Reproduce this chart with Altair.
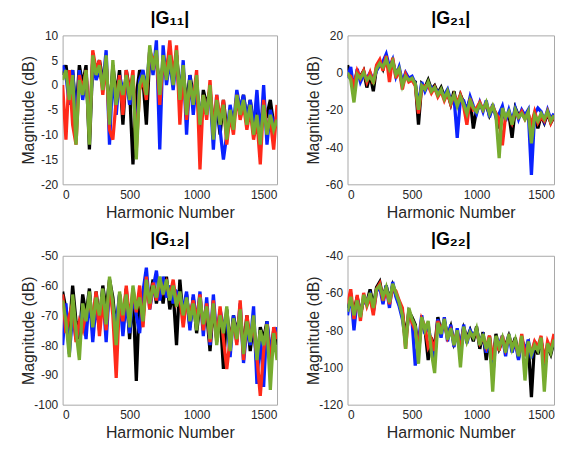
import altair as alt
import pandas as pd

# Harmonic numbers (x positions of samples)
H = list(range(0, 1601, 25))

# ---------- |G11| ----------
g11_k = [2, 4, -1, 3, -6,  4, 0, 4, -13, 5,  3, 5, 1, 4, -6,  4, -2, 3, -8, 3,
         -1, -16, -2, 3, 1,  -8, 6, 4, 5, 0,  4, 3, 7, 2, 6,  -1, 3, -4, 2, -2,
         0, -9, -1, -4, -1,  -8, -4, -10, -3, -9,  -6, -7, -4, -5, -2,  -7, -3, -8, -4, -10,
         -5, -6, -3, -8, -8]
g11_b = [4, 2, -4, 3, -8,  3, -3, 2, -9, 5,  1, 3, 0, 7, -12,  3, -6, 2, -1, 1,
         -4, 1, -11, 1, 3,  -1, 7, 2, 9, -13,  8, 0, 5, -1, 6,  -4, 5, -10, 2, -6,
         1, -7, -3, -5, -1,  -13, -2, -9, -15, -10,  -4, -8, -1, -5, -2,  -7, -3, -9, -1, -11,
         0, -12, -5, -8, -6]
g11_r = [0, -11, 3, -8, -12,  2, -1, 3, -10, 7,  3, 5, -2, 5, -9,  -11, -3, 2, -6, 3,
         -2, 3, -13, -1, 1,  -3, 7, 5, 6, -4,  5, 2, 9, 1, 8,  -8, 3, -7, 0, -3,
         3, -17, -2, -7, 1,  -10, -2, -7, -3, -12,  -6, -10, -2, -7, -4,  -9, -5, -11, -7, -16,
         -3, -9, -7, -13, -4]
g11_g = [1, 3, -3, 2, -12,  1, -2, 3, -12, 6,  2, 4, -1, 6, -8,  5, -4, 1, -2, 2,
         -3, 2, -15, 0, 2,  -2, 8, 3, 7, -2,  6, 1, 6, 0, 7,  -3, 4, -6, 1, -4,
         2, -8, -2, -6, 0,  -11, -3, -8, -4, -11,  -5, -9, -2, -6, -3,  -8, -4, -10, -6, -12,
         -4, -10, -6, -9, -7]

# ---------- |G21| ----------
g21_k = [4, -3, -6, 0, -2,  1, -8, -1, -10, 3,  6, 2, 8, 1, 5,  0, 1, -6, -1, -3,
         -4, -5, -28, -6, -8,  -4, -9, -7, -11, -8,  -13, -11, -17, -10, -19,  -12, -16, -20, -14, -30,
         -20, -18, -19, -17, -23,  -19, -22, -30, -20, -25,  -22, -35, -19, -23, -21,  -24, -22, -34, -22, -30,
         -23, -27, -22, -27, -24]
g21_b = [-3, 3, -10, 2, -5,  -1, -3, 0, -4, 1,  4, 6, 10, 3, 7,  -2, 3, -5, 0, -3,
         -2, -6, -18, -5, -10,  -6, -8, -9, -10, -11,  -12, -9, -15, -13, -35,  -14, -15, -21, -13, -18,
         -22, -16, -21, -15, -24,  -17, -24, -22, -18, -26,  -20, -26, -19, -25, -20,  -23, -20, -55, -22, -19,
         -21, -26, -20, -25, -22]
g21_r = [-1, -2, -7, 1, -3,  1, -5, 0, -6, 4,  7, 1, 9, -5, 8,  -3, 2, -9, -1, -5,
         -4, -7, -22, -8, -7,  -7, -11, -8, -13, -10,  -15, -11, -17, -12, -16,  -12, -18, -28, -14, -20,
         -19, -16, -20, -17, -21,  -18, -22, -25, -39, -23,  -22, -27, -21, -24, -21,  -25, -22, -28, -21, -27,
         -24, -26, -21, -27, -23]
g21_g = [0, -4, -16, -1, -3,  0, -4, -2, -5, 2,  5, 3, 7, 2, 6,  -1, 2, -7, -2, -4,
         -3, -6, -20, -7, -9,  -5, -10, -8, -12, -9,  -14, -10, -16, -12, -18,  -13, -17, -22, -15, -19,
         -21, -17, -20, -16, -22,  -18, -23, -46, -19, -24,  -21, -28, -20, -24, -22,  -25, -21, -38, -23, -26,
         -22, -25, -21, -26, -23]

# ---------- |G12| ----------
g12_k = [-62, -68, -76, -60, -72,  -78, -63, -70, -61, -76,  -62, -72, -60, -68, -58,  -64, -76, -63, -73, -61,
         -78, -62, -92, -62, -70,  -60, -65, -58, -66, -59,  -66, -57, -68, -62, -80,  -58, -72, -63, -74, -64,
         -76, -66, -72, -69, -82,  -67, -78, -69, -88, -68,  -80, -70, -76, -69, -81,  -70, -82, -72, -87, -74,
         -78, -72, -84, -75, -80]
g12_b = [-80, -66, -83, -70, -78,  -74, -68, -78, -63, -79,  -66, -75, -62, -79, -60,  -68, -73, -63, -77, -65,
         -76, -63, -70, -76, -62,  -54, -68, -61, -55, -65,  -57, -64, -60, -66, -62,  -63, -68, -62, -75, -63,
         -73, -62, -77, -64, -80,  -63, -78, -68, -74, -70,  -84, -70, -79, -66, -86,  -74, -80, -67, -93, -76,
         -94, -72, -82, -77, -74]
g12_r = [-63, -76, -70, -66, -79,  -72, -75, -69, -66, -71,  -62, -77, -65, -75, -59,  -70, -91, -64, -72, -60,
         -72, -61, -69, -60, -74,  -57, -68, -59, -65, -58,  -62, -59, -64, -58, -66,  -64, -74, -65, -70, -65,
         -72, -63, -75, -66, -79,  -65, -79, -67, -78, -88,  -78, -72, -80, -65, -85,  -70, -78, -73, -84, -97,
         -82, -73, -88, -74, -78]
g12_g = [-65, -72, -84, -63, -75,  -85, -66, -72, -62, -74,  -64, -70, -61, -73, -57,  -66, -80, -62, -70, -63,
         -74, -60, -68, -64, -72,  -58, -66, -60, -64, -57,  -63, -58, -65, -60, -67,  -62, -70, -64, -72, -66,
         -75, -64, -73, -67, -78,  -66, -80, -70, -76, -67,  -82, -71, -78, -68, -83,  -72, -79, -70, -85, -75,
         -80, -73, -95, -76, -85]

# ---------- |G22| ----------
g22_k = [-68, -64, -70, -62, -72,  -63, -65, -58, -67, -57,  -54, -63, -56, -64, -56,  -61, -66, -70, -84, -70,
         -73, -77, -92, -75, -79,  -96, -84, -90, -73, -81,  -75, -83, -78, -87, -82,  -88, -79, -84, -80, -86,
         -78, -90, -81, -96, -83,  -100, -82, -90, -86, -88,  -83, -89, -84, -95, -85,  -90, -87, -116, -86, -93,
         -86, -95, -89, -93, -86]
g22_b = [-72, -60, -80, -63, -69,  -65, -64, -61, -70, -59,  -57, -66, -56, -68, -54,  -62, -67, -74, -85, -72,
         -75, -99, -86, -72, -82,  -77, -88, -95, -74, -84,  -73, -86, -77, -89, -79,  -90, -77, -87, -80, -83,
         -80, -86, -83, -92, -85,  -105, -84, -88, -83, -94,  -82, -92, -86, -96, -84,  -92, -85, -95, -87, -90,
         -85, -100, -88, -91, -84]
g22_r = [-66, -58, -74, -61, -75,  -60, -67, -62, -72, -58,  -55, -64, -58, -66, -57,  -59, -64, -68, -90, -69,
         -76, -80, -90, -74, -78,  -89, -85, -91, -75, -80,  -76, -84, -80, -86, -81,  -92, -79, -85, -82, -83,
         -81, -87, -84, -89, -83,  -96, -85, -91, -83, -90,  -84, -88, -87, -93, -82,  -94, -88, -92, -86, -89,
         -83, -98, -86, -90, -82]
g22_g = [-70, -62, -72, -64, -73,  -61, -66, -60, -68, -58,  -56, -62, -57, -65, -55,  -60, -65, -72, -90, -68,
         -74, -78, -98, -73, -80,  -75, -92, -103, -76, -82,  -74, -85, -79, -88, -80,  -100, -78, -86, -81, -84,
         -79, -88, -82, -90, -84,  -113, -83, -89, -84, -92,  -82, -90, -85, -94, -83,  -107, -86, -93, -88, -91,
         -84, -113, -87, -92, -85]

for arr in [g11_k, g11_b, g11_r, g11_g, g21_k, g21_b, g21_r, g21_g,
            g12_k, g12_b, g12_r, g12_g, g22_k, g22_b, g22_r, g22_g]:
    assert len(arr) == len(H), len(arr)

COLORS = ["#000000", "#0a22ff", "#ff2a1a", "#77ac30"]
FONT = "Liberation Sans"


def panel(title, series, ydom, yvals, width):
    layers = []
    for vals, col in zip(series, COLORS):
        df = pd.DataFrame({"h": H, "m": vals})
        layers.append(
            alt.Chart(df).mark_line(strokeWidth=3.3, color=col, clip=True).encode(
                x=alt.X("h:Q",
                        scale=alt.Scale(domain=[0, 1600], nice=False, zero=False),
                        axis=alt.Axis(values=[0, 500, 1000, 1500], title="Harmonic Number",
                                      labelExpr="'' + datum.value",
                                      labelPadding=5, titlePadding=4)),
                y=alt.Y("m:Q",
                        scale=alt.Scale(domain=ydom, nice=False, zero=False),
                        axis=alt.Axis(values=yvals, title="Magnitude (dB)",
                                      labelExpr="'' + datum.value",
                                      labelPadding=5, titlePadding=2,
                                      minExtent=24, maxExtent=24)),
            )
        )
    return alt.layer(*layers).properties(width=width, height=150,
                                         title=alt.Title(title))


p11 = panel("|G₁₁|", [g11_k, g11_b, g11_r, g11_g], [-20, 10], [-20, -15, -10, -5, 0, 5, 10], 216)
p21 = panel("|G₂₁|", [g21_k, g21_b, g21_r, g21_g], [-60, 20], [-60, -40, -20, 0, 20], 208)
p12 = panel("|G₁₂|", [g12_k, g12_b, g12_r, g12_g], [-100, -50], [-100, -90, -80, -70, -60, -50], 216)
p22 = panel("|G₂₂|", [g22_k, g22_b, g22_r, g22_g], [-120, -40], [-120, -100, -80, -60, -40], 208)

chart = alt.vconcat(
    alt.hconcat(p11, p21, spacing=27),
    alt.hconcat(p12, p22, spacing=27),
    spacing=9,
).properties(
    padding={"left": 12, "top": 0, "right": 0, "bottom": 0}
).configure_view(
    stroke="#a8a8a8", strokeWidth=1
).configure_axis(
    domain=False, ticks=False, tickSize=0, grid=False,
    labelFont=FONT, labelFontSize=12, labelColor="#262626",
    titleFont=FONT, titleFontSize=16, titleFontWeight="normal", titleColor="#262626",
).configure_title(
    font=FONT, fontSize=18, fontWeight="bold", color="#000000",
    anchor="middle", offset=1,
)

chart.save("out.html", embed_options={"renderer": "svg", "actions": False})
